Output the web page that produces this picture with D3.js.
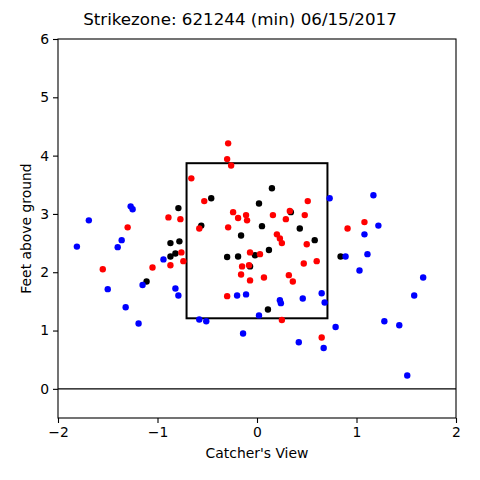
<!DOCTYPE html>
<html>
<head>
<meta charset="utf-8">
<script src="https://cdn.jsdelivr.net/npm/d3@7"></script>
<style>
  body { margin: 0; background: #fff; }
  text { font-family: "DejaVu Sans", sans-serif; }
</style>
</head>
<body>
<div id="main"></div>
<script>
const chartTitle = "Strikezone: 621244 (min) 06/15/2017";
const xTicks = [-2, -1, 0, 1, 2];
const yTicks = [0, 1, 2, 3, 4, 5, 6];
const szLeft = -0.708, szRight = 0.708, szBottom = 1.21, szTop = 3.87;

// [plate_x, plate_z]
const bluePitches = [
    [-1.81, 2.44], [-1.69, 2.89], [-1.50, 1.71], [-1.36, 2.55], [-1.40, 2.43],
    [-1.27, 3.13], [-1.25, 3.08], [-1.32, 1.40], [-1.19, 1.12], [-1.15, 1.78],
    [-0.94, 2.22], [-0.82, 1.72], [-0.79, 1.60], [-0.20, 1.60], [-0.11, 1.62],
    [0.02, 1.26], [-0.14, 0.95], [-0.58, 1.19], [-0.51, 1.16], [0.23, 1.52],
    [0.24, 1.47], [0.46, 1.55], [0.65, 1.64], [0.68, 1.48], [0.73, 3.27],
    [1.17, 3.32], [1.22, 2.80], [1.08, 2.65], [1.11, 2.31], [0.89, 2.27],
    [1.03, 2.03], [1.67, 1.91], [1.58, 1.60], [1.28, 1.16], [1.43, 1.09],
    [0.79, 1.06], [0.42, 0.80], [0.67, 0.70], [1.51, 0.23]
];
const blackPitches = [
    [-0.46, 3.27], [-0.79, 3.10], [-0.56, 2.80], [0.02, 3.18], [-0.16, 2.63],
    [-0.78, 2.53], [-0.87, 2.50], [-0.30, 2.26], [-0.19, 2.27], [-0.02, 2.29],
    [-0.82, 2.32], [-0.87, 2.27], [0.15, 3.44], [0.34, 3.03], [0.05, 2.79],
    [0.43, 2.75], [0.58, 2.55], [0.12, 2.38], [-0.07, 2.10], [0.84, 2.27],
    [0.11, 1.36], [-1.11, 1.84]
];
const redPitches = [
    [-0.29, 4.21], [-0.30, 3.94], [-0.26, 3.83], [-0.66, 3.61], [-0.53, 3.22],
    [-0.89, 2.94], [-0.77, 2.91], [-0.58, 2.75], [-0.29, 2.77], [-0.24, 3.03],
    [-0.19, 2.93], [-0.11, 2.98], [-0.10, 2.89], [-1.30, 2.77], [-0.76, 2.34],
    [-0.07, 2.34], [-0.74, 2.19], [-0.87, 2.12], [-1.05, 2.08], [-0.15, 2.10],
    [-0.08, 2.12], [0.16, 2.98], [0.33, 3.05], [0.29, 2.91], [0.51, 3.22],
    [0.48, 2.98], [0.20, 2.65], [0.23, 2.58], [0.25, 2.50], [0.50, 2.48],
    [0.60, 2.19], [0.47, 2.15], [0.03, 2.31], [0.91, 2.75], [1.08, 2.86],
    [-0.16, 1.96], [-0.07, 1.86], [-0.30, 1.59], [0.07, 1.91], [0.32, 1.95],
    [0.36, 1.84], [0.25, 1.18], [0.65, 0.88], [-1.55, 2.05]
];

class StrikeZone {
    constructor({ width = 480, height = 480, margin = { top: 39, right: 24, bottom: 62, left: 58 } } = {}) {
        this.w = width;
        this.h = height;
        this.margin = margin;
        this.svg = null;
    }

    createSvg(selector) {
        this.svg = d3.select(selector)
            .append("svg")
            .attr("width", this.w)
            .attr("height", this.h);
    }

    drawChart() {
        const width = this.w - this.margin.left - this.margin.right;
        const height = this.h - this.margin.top - this.margin.bottom;

        const xScale = d3.scaleLinear().domain([-2, 2]).range([0, width]);
        const yScale = d3.scaleLinear().domain([-0.5, 6]).range([height, 0]);

        const g = this.svg.append("g")
            .attr("transform", `translate(${this.margin.left},${this.margin.top})`);

        // ground line
        g.append("line")
            .attr("x1", 0).attr("x2", width)
            .attr("y1", yScale(0)).attr("y2", yScale(0))
            .attr("stroke", "black")
            .attr("stroke-width", 1.1);

        // strike zone
        g.append("rect")
            .attr("x", xScale(szLeft))
            .attr("y", yScale(szTop))
            .attr("width", xScale(szRight) - xScale(szLeft))
            .attr("height", yScale(szBottom) - yScale(szTop))
            .attr("fill", "none")
            .attr("stroke", "black")
            .attr("stroke-width", 2);

        const groups = [
            { data: blackPitches, color: "black" },
            { data: bluePitches, color: "blue" },
            { data: redPitches, color: "red" }
        ];
        groups.forEach(grp => {
            g.append("g").selectAll("circle")
                .data(grp.data)
                .join("circle")
                .attr("cx", d => xScale(d[0]))
                .attr("cy", d => yScale(d[1]))
                .attr("r", 3.2)
                .style("fill", grp.color);
        });

        // frame
        g.append("rect")
            .attr("width", width).attr("height", height)
            .attr("fill", "none")
            .attr("stroke", "black")
            .attr("stroke-width", 1.1);

        // Eixo X
        const xAxis = g.append("g")
            .attr("transform", `translate(0,${height})`)
            .call(d3.axisBottom(xScale).tickValues(xTicks).tickSize(5).tickPadding(4)
                .tickFormat(d => d < 0 ? "\u2212" + Math.abs(d) : d));
        // Eixo Y
        const yAxis = g.append("g")
            .call(d3.axisLeft(yScale).tickValues(yTicks).tickSize(5).tickPadding(4)
                .tickFormat(d3.format("d")));

        [xAxis, yAxis].forEach(ax => {
            ax.select(".domain").remove();
            ax.selectAll("line").attr("stroke-width", 1.1);
            ax.selectAll("text")
                .style("font-size", "13.9px")
                .style("font-family", "DejaVu Sans, sans-serif")
                .attr("fill", "black");
        });

        this.svg.append("text")
            .attr("x", this.margin.left + width / 2)
            .attr("y", 458)
            .attr("text-anchor", "middle")
            .style("font-size", "13.9px")
            .text("Catcher's View");

        this.svg.append("text")
            .attr("transform", `translate(31,${this.margin.top + height / 2}) rotate(-90)`)
            .attr("text-anchor", "middle")
            .style("font-size", "13.9px")
            .text("Feet above ground");

        this.svg.append("text")
            .attr("x", this.w / 2)
            .attr("y", 25)
            .attr("text-anchor", "middle")
            .style("font-size", "16.7px")
            .text(chartTitle);
    }

    run(selector) {
        this.createSvg(selector);
        this.drawChart();
    }
}

window.onload = () => {
    const app = new StrikeZone({ width: 480, height: 480 });
    app.run("#main");
};
</script>
</body>
</html>
